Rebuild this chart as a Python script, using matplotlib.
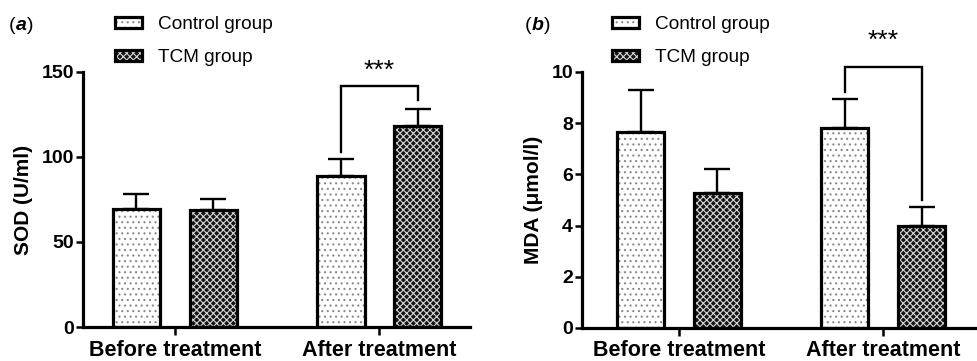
import matplotlib
matplotlib.use("Agg")
import matplotlib.pyplot as plt
import numpy as np
from matplotlib.patches import Rectangle
from matplotlib.legend_handler import HandlerTuple

plt.rcParams['font.family'] = ['Liberation Sans', 'DejaVu Sans']
plt.rcParams['hatch.linewidth'] = 0.8

categories = ["Before treatment", "After treatment"]
series = ["Control group", "TCM group"]

sod_control = [69.4, 88.8]
sod_control_sd = [8.8, 10.0]
sod_tcm = [68.8, 118.2]
sod_tcm_sd = [6.5, 10.0]

mda_control = [7.67, 7.82]
mda_control_sd = [1.63, 1.11]
mda_tcm = [5.26, 3.98]
mda_tcm_sd = [0.95, 0.76]

# significance brackets: (left leg bottom, top, right leg bottom)
sod_bracket = (102.9, 141.8, 133.5)
mda_bracket = (9.23, 10.18, 5.0)
sig_label = "***"

W, H = 978, 361
fig = plt.figure(figsize=(W / 100, H / 100), dpi=100)

def ax_rect(l, r, t, b):
    return [l / W, 1 - b / H, (r - l) / W, (b - t) / H]

ax1 = fig.add_axes(ax_rect(83, 470, 72, 327))
ax2 = fig.add_axes(ax_rect(582, 975, 72, 328))

off = 0.188
bw = 0.232
spine_lw = 2.3

def draw_panel(ax, ctrl, ctrl_sd, tcm, tcm_sd, ylim, yticks, ylabel, bracket, xlim, star_y):
    x = np.arange(len(categories))
    styles = [
        dict(face="white", hatch="...", hcol="#8a8a8a"),
        dict(face="#151515", hatch="xxxxx", hcol="#d8d8d8"),
    ]
    handles = []
    for i, (vals, sds) in enumerate([(ctrl, ctrl_sd), (tcm, tcm_sd)]):
        pos = x + (-off if i == 0 else off)
        st = styles[i]
        ax.bar(pos, vals, width=bw, color=st["face"], edgecolor=st["hcol"],
               linewidth=0, hatch=st["hatch"], zorder=2)
        ax.bar(pos, vals, width=bw, fill=False, edgecolor="black",
               linewidth=spine_lw, zorder=3)
        ax.errorbar(pos, vals, yerr=[np.zeros(len(vals)), sds], fmt="none",
                    ecolor="black", elinewidth=1.7, capsize=9.5, capthick=1.7,
                    zorder=1)
        p1 = Rectangle((0, 0), 1, 1, facecolor=st["face"], edgecolor=st["hcol"],
                       linewidth=0, hatch=st["hatch"])
        p2 = Rectangle((0, 0), 1, 1, fill=False, edgecolor="black", linewidth=2.3)
        handles.append((p1, p2))
    xl, xr = x[1] - off, x[1] + off
    yl, yt, yr = bracket
    ax.plot([xl, xl, xr, xr], [yl, yt, yt, yr], color="black", lw=1.7,
            clip_on=False, zorder=4, solid_joinstyle="miter")
    ax.text((xl + xr) / 2, star_y, sig_label, ha="center", va="center",
            fontsize=19, clip_on=False)

    ax.set_xlim(*xlim)
    ax.set_ylim(*ylim)
    ax.set_yticks(yticks)
    ax.set_xticks(x)
    ax.set_xticklabels(categories, fontsize=15.5, fontweight="bold")
    for lab in ax.get_yticklabels():
        lab.set_fontsize(14)
        lab.set_fontweight("bold")
    ax.set_ylabel(ylabel, fontsize=15, fontweight="bold", labelpad=6)
    for s in ["top", "right"]:
        ax.spines[s].set_visible(False)
    for s in ["left", "bottom"]:
        ax.spines[s].set_linewidth(spine_lw)
    ax.tick_params(axis="y", length=5, width=1.8, pad=1.5)
    ax.tick_params(axis="x", length=6, width=1.8, pad=3)
    return handles

h1 = draw_panel(ax1, sod_control, sod_control_sd, sod_tcm, sod_tcm_sd,
                (0, 150), [0, 50, 100, 150], "SOD (U/ml)", sod_bracket,
                (-0.449, 1.444), 150.5)
h2 = draw_panel(ax2, mda_control, mda_control_sd, mda_tcm, mda_tcm_sd,
                (0, 10), [0, 2, 4, 6, 8, 10], "MDA (\u03bcmol/l)", mda_bracket,
                (-0.475, 1.45), 11.2)

for h, lx in [(h1, 115), (h2, 612)]:
    fig.legend(h, series, handler_map={tuple: HandlerTuple(ndivide=1)},
               loc="upper left", bbox_to_anchor=(lx / W, 1 - 16 / H),
               frameon=False, fontsize=13.7, handlelength=1.4,
               handleheight=0.5, labelspacing=0.85, handletextpad=0.85,
               borderaxespad=0, borderpad=0)

def panel_label(x, y, letter):
    t1 = fig.text(x / W, 1 - y / H, "(", fontsize=14, va="center", ha="left")
    an = fig.add_artist(matplotlib.text.Annotation(
        letter, xy=(1, 0), xycoords=t1, va="bottom", ha="left",
        fontsize=14, fontweight="bold", style="italic", annotation_clip=False))
    fig.add_artist(matplotlib.text.Annotation(
        ")", xy=(1, 0), xycoords=an, va="bottom", ha="left",
        fontsize=14, annotation_clip=False))

panel_label(9, 25, "a")
panel_label(525, 25, "b")

fig.savefig("out.png", dpi=100)
